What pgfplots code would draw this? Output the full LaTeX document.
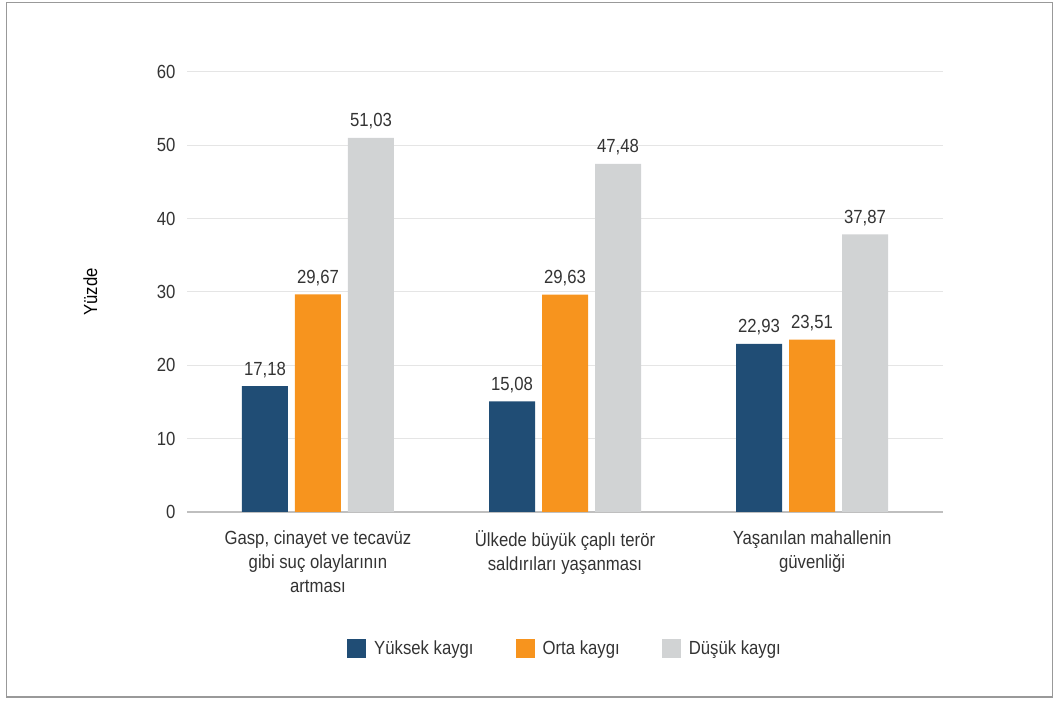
\documentclass[border=0pt]{standalone}
\usepackage{fontspec}
\setmainfont{Liberation Sans}[FakeStretch=0.88]
\usepackage{pgfplots}
\pgfplotsset{compat=1.18}
\definecolor{cblue}{HTML}{204D75}
\definecolor{corange}{HTML}{F7941E}
\definecolor{cgray}{HTML}{D1D3D4}
\definecolor{ctext}{HTML}{333333}
\begin{document}
\begin{tikzpicture}
\path[use as bounding box] (0pt,0pt) rectangle (1059pt,701pt);
\draw[color=black!40, line width=1.2pt] (6.5pt,4pt) rectangle (1052.5pt,698.5pt);
\begin{axis}[
  at={(187pt,189pt)}, anchor=south west,
  scale only axis, width=756pt, height=440pt,
  ybar=7pt, bar width=46pt,
  xmin=-0.530, xmax=2.530, ymin=0, ymax=60,
  ytick={0,10,...,60},
  xtick=data,
  xticklabels={{Gasp, cinayet ve tecavüz\\gibi suç olaylarının\\artması},{Ülkede büyük çaplı terör\\saldırıları yaşanması},{Yaşanılan mahallenin\\güvenliği}},
  xticklabel style={align=center, font=\fontsize{19}{24}\selectfont, text=ctext, yshift=-15pt},
  yticklabel style={font=\fontsize{19}{22}\selectfont, text=ctext, xshift=-8pt},
  /pgf/number format/assume math mode=true,
  major tick length=0pt,
  axis y line*=left, y axis line style={draw=none},
  axis x line*=bottom, x axis line style={draw=black!25, line width=1.5pt},
  ymajorgrids, grid style={draw=black!10, line width=1pt},
  ylabel={Yüzde},
  ylabel style={at={(axis description cs:-0.128,0.5)}, anchor=center, font=\fontsize{19}{22}\selectfont, text=black},
  nodes near coords,
  nodes near coords style={font=\fontsize{19}{22}\selectfont, text=ctext, anchor=south, yshift=5pt,
    /pgf/number format/.cd, fixed, fixed zerofill, precision=2, use comma, assume math mode=true},
  legend columns=3,
  legend style={at={(0.5,-0.283)}, anchor=north, draw=none, fill=none,
    font=\fontsize{19}{22}\selectfont, text=ctext,
    /tikz/every odd column/.append style={column sep=6pt},
    /tikz/every even column/.append style={column sep=40pt},
    cells={anchor=west}},
  legend image code/.code={\path[#1, draw=none] (0pt,-9.5pt) rectangle (19pt,9.5pt);},
]
\addplot[fill=cblue, draw=none] coordinates {(0,17.18) (1,15.08) (2,22.93)};
\addplot[fill=corange, draw=none] coordinates {(0,29.67) (1,29.63) (2,23.51)};
\addplot[fill=cgray, draw=none] coordinates {(0,51.03) (1,47.48) (2,37.87)};
\legend{Yüksek kaygı, Orta kaygı, Düşük kaygı}
\end{axis}
\end{tikzpicture}
\end{document}
